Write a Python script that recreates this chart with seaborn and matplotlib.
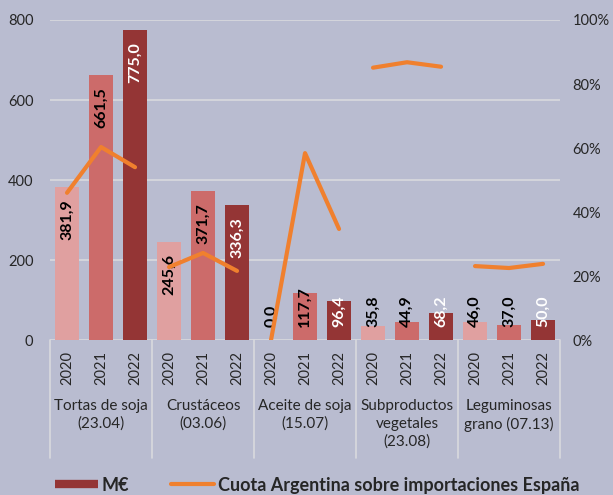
import pandas as pd
import matplotlib.pyplot as plt
import matplotlib.transforms as mtransforms
import seaborn as sns
from matplotlib.lines import Line2D
from matplotlib.ticker import PercentFormatter

# Datos
categorias = ["Tortas de soja\n(23.04)", "Crustáceos\n(03.06)", "Aceite de soja\n(15.07)",
              "Subproductos\nvegetales\n(23.08)", "Leguminosas\ngrano (07.13)"]
anios = ["2020", "2021", "2022"]
valores_meur = [
    [381.9, 661.5, 775.0],
    [245.6, 371.7, 336.3],
    [0.0, 117.7, 96.4],
    [35.8, 44.9, 68.2],
    [46.0, 37.0, 50.0],
]
cuota_argentina = [
    [46.0, 60.3, 54.0],
    [22.8, 27.2, 21.6],
    [0.0, 58.4, 34.7],
    [85.1, 86.8, 85.4],
    [23.1, 22.5, 23.8],
]

BG = "#B9BCD0"
GRID = "#D9D9DE"
ORANGE = "#F0802E"
bar_colors = {"2020": "#E0A0A0", "2021": "#CC6B6A", "2022": "#943535"}
label_colors = {"2020": "black", "2021": "black", "2022": "white"}

rows = []
for i, cat in enumerate(categorias):
    for j, year in enumerate(anios):
        rows.append({
            "cat": cat,
            "year": year,
            "slot": f"{i}|{year}",
            "pos": 3 * i + j,
            "meur": valores_meur[i][j],
            "cuota": cuota_argentina[i][j],
        })
df = pd.DataFrame(rows)

sns.set_style("white")
plt.rcParams["font.family"] = ["Lato", "DejaVu Sans"]

fig = plt.figure(figsize=(6.13, 4.95), dpi=100)
fig.patch.set_facecolor(BG)
ax = fig.add_axes([0.0816, 0.3131, 0.832, 0.6465])
ax.set_facecolor(BG)

sns.barplot(data=df, x="slot", y="meur", hue="year", order=list(df["slot"]),
            hue_order=anios, palette=bar_colors, dodge=False, width=0.7,
            saturation=1, legend=False, ax=ax, zorder=2, linewidth=0)

ax.set_ylim(0, 800)
ax.set_yticks(range(0, 801, 200))
ax.set_xlim(-0.5, 14.5)
for y in range(0, 801, 200):
    ax.axhline(y, color=GRID, lw=1.2, zorder=1)
ax.set_xticks(range(len(df)))
ax.set_xticklabels(list(df["year"]), rotation=90, fontsize=10.5)
ax.tick_params(axis="x", length=0, pad=8)
ax.tick_params(axis="y", length=0, pad=12, labelsize=10.5)
ax.set_xlabel("")
ax.set_ylabel("")
for s in ax.spines.values():
    s.set_visible(False)

# etiquetas de valor (formato español)
for _, r in df.iterrows():
    txt = f"{r['meur']:.1f}".replace(".", ",")
    if r["meur"] - 130 >= 33:
        y, va = r["meur"] - 30, "top"
    else:
        y, va = 33, "bottom"
    ax.text(r["pos"], y, txt, rotation=90, ha="center", va=va, fontsize=11.5,
            fontweight="bold", color=label_colors[r["year"]], zorder=3)

# eje de categorías en dos niveles
trans = mtransforms.blended_transform_factory(ax.transData, ax.transAxes)
for b in [-0.5, 2.5, 5.5, 8.5, 11.5, 14.5]:
    ax.plot([b, b], [0, -0.369], transform=trans, clip_on=False, color=GRID, lw=1.2)
for i, cat in enumerate(categorias):
    ax.text(3 * i + 1, -0.185, cat, transform=trans, ha="center", va="top",
            fontsize=11, linespacing=1.3)

# cuota en eje secundario
ax2 = ax.twinx()
sns.lineplot(data=df, x="pos", y="cuota", units="cat", estimator=None, sort=False,
             color=ORANGE, lw=3, solid_capstyle="round", ax=ax2, legend=False)
ax2.set_ylim(0, 100)
ax2.set_yticks(range(0, 101, 20))
ax2.yaxis.set_major_formatter(PercentFormatter(decimals=0))
ax2.tick_params(axis="y", length=0, pad=9, labelsize=10.5)
ax2.set_ylabel("")
ax2.set_xlabel("")
for s in ax2.spines.values():
    s.set_visible(False)
ax.set_xlim(-0.5, 14.5)

handles = [Line2D([], [], color=bar_colors["2022"], lw=6, solid_capstyle="butt"),
           Line2D([], [], color=ORANGE, lw=3, solid_capstyle="round")]
fig.legend(handles=handles, labels=["M€", "Cuota Argentina sobre importaciones España"],
           loc="center", bbox_to_anchor=(0.517, 0.02), ncol=2, frameon=False,
           prop={"weight": "bold", "size": 13}, handlelength=2.4,
           handletextpad=0.2, columnspacing=2.3)

fig.savefig("out.png", dpi=100, facecolor=BG)
